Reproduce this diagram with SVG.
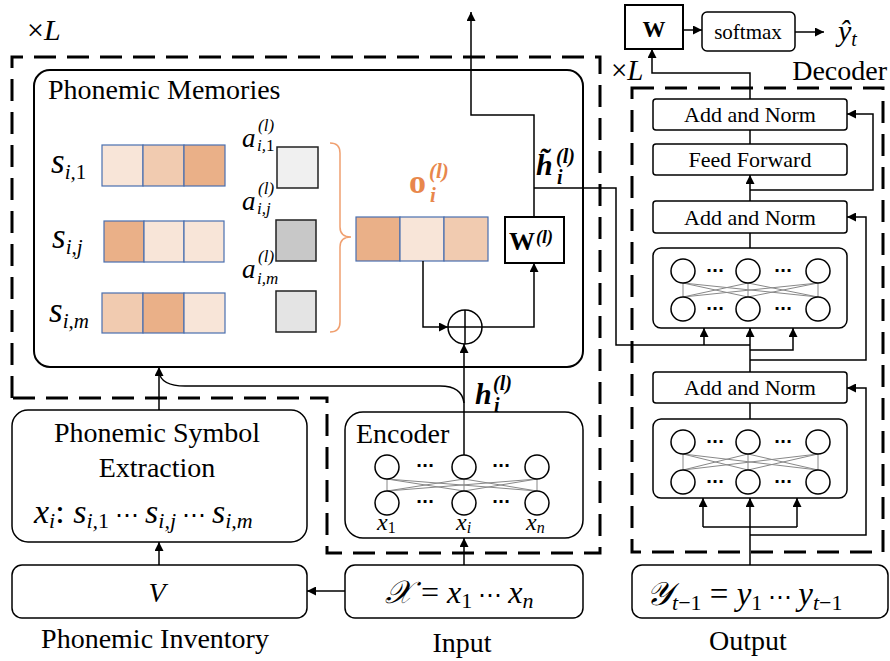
<svg xmlns="http://www.w3.org/2000/svg" width="890" height="661" viewBox="0 0 890 661">
<defs>
<style>
.box{fill:#fff;stroke:#000;stroke-width:1.5}
.bx2{fill:#fff;stroke:#000;stroke-width:2}
.dash{fill:none;stroke:#000;stroke-width:3;stroke-dasharray:22 11}
.ln{fill:none;stroke:#000;stroke-width:1.5}
.arr{fill:none;stroke:#000;stroke-width:1.5;marker-end:url(#ah)}
.t{font-family:"Liberation Serif","Times New Roman",serif;fill:#000}
.m{font-family:"Liberation Serif","DejaVu Serif",serif;font-style:italic;fill:#000}
.up{font-style:normal}
.el{font-style:normal;font-size:24px}
.b{font-weight:bold}
.cell{stroke:#4A6FB0;stroke-width:1.2}
.c1{fill:#F8E5D8}.c2{fill:#F1CBB0}.c3{fill:#EAB088}
.sq{stroke:#222;stroke-width:1.5}
.net circle{fill:#fff;stroke:#000;stroke-width:1.5}
.net line{stroke:#888;stroke-width:1}
.dots{font-family:"DejaVu Sans",sans-serif;font-size:16px;font-weight:bold;fill:#000;text-anchor:middle}
.or{fill:#E8874C}
</style>
<marker id="ah" viewBox="0 0 10 10" refX="10" refY="5" markerWidth="9" markerHeight="9" markerUnits="userSpaceOnUse" orient="auto"><path d="M0,0 L10,5 L0,10 z" fill="#000"/></marker>
</defs>
<rect width="890" height="661" fill="#fff"/>

<g id="encoder-stack-frame">
<path class="dash" d="M12,398 L12,57 L600,57 L600,553 L327,553 L327,398 Z"/>
<text class="t" x="27" y="40" font-size="30">×<tspan font-style="italic">L</tspan></text>
</g>

<g id="decoder-stack-frame">
<rect class="dash" x="632" y="88" width="251" height="464"/>
<text class="t" x="611" y="80" font-size="29">×<tspan font-style="italic">L</tspan></text>
<text class="t" x="887" y="80" font-size="28" text-anchor="end">Decoder</text>
</g>

<g id="phonemic-memories">
<rect class="bx2" x="34" y="70" width="549" height="297" rx="16"/>
<text class="t" x="48" y="99" font-size="28">Phonemic Memories</text>
<!-- row 1 -->
<text class="m" x="51" y="173" font-size="35">s<tspan font-size="21" dy="6">i,<tspan class="up">1</tspan></tspan></text>
<rect class="cell c1" x="102" y="145" width="41" height="41"/>
<rect class="cell c2" x="143" y="145" width="41" height="41"/>
<rect class="cell c3" x="184" y="145" width="41" height="41"/>
<rect class="sq" x="277" y="147" width="41" height="41" fill="#F0F0F0"/>
<text class="m" x="242" y="147" font-size="27">a</text>
<text class="m" x="258" y="131" font-size="17">(l)</text>
<text class="m" x="257" y="151" font-size="17">i,<tspan class="up">1</tspan></text>
<!-- row 2 -->
<text class="m" x="52" y="248" font-size="35">s<tspan font-size="21" dy="6">i,j</tspan></text>
<rect class="cell c3" x="104" y="221" width="40" height="41"/>
<rect class="cell c1" x="144" y="221" width="40" height="41"/>
<rect class="cell c1" x="184" y="221" width="40" height="41"/>
<rect class="sq" x="276" y="220" width="40" height="41" fill="#C8C8C8"/>
<text class="m" x="242" y="210" font-size="27">a</text>
<text class="m" x="258" y="194" font-size="17">(l)</text>
<text class="m" x="257" y="214" font-size="17">i,j</text>
<!-- row 3 -->
<text class="m" x="49" y="322" font-size="35">s<tspan font-size="21" dy="6">i,m</tspan></text>
<rect class="cell c2" x="102" y="293" width="41" height="40"/>
<rect class="cell c3" x="143" y="293" width="41" height="40"/>
<rect class="cell c1" x="184" y="293" width="41" height="40"/>
<rect class="sq" x="276" y="291" width="40" height="41" fill="#E4E4E4"/>
<text class="m" x="242" y="278" font-size="27">a</text>
<text class="m" x="258" y="262" font-size="17">(l)</text>
<text class="m" x="257" y="284" font-size="17">i,m</text>
<!-- bracket -->
<path d="M330,143 Q340,143 340,153 L340,227 Q340,237 351,237 Q340,237 340,247 L340,322 Q340,332 330,332" fill="none" stroke="#F0A070" stroke-width="1.5"/>
<!-- o vector -->
<text class="t or b" x="409" y="193" font-size="34">o</text>
<text class="m or b" x="429" y="178" font-size="21">(l)</text>
<text class="m or b" x="430" y="202" font-size="21">i</text>
<rect class="cell c3" x="356" y="217" width="44" height="44"/>
<rect class="cell c1" x="400" y="217" width="44" height="44"/>
<rect class="cell c2" x="444" y="217" width="44" height="44"/>
</g>

<g id="W-l">
<rect class="bx2" x="505" y="217" width="59" height="46"/>
<text class="t b" x="509" y="250" font-size="26">W</text>
<text class="m b" x="536" y="243" font-size="18">(l)</text>
</g>

<g id="add-circle">
<circle cx="465" cy="327" r="17" fill="#fff" stroke="#000" stroke-width="1.5"/>
<path class="ln" d="M448,327 L482,327 M465,310 L465,344"/>
</g>

<g id="h-tilde-label">
<text class="m b" x="536" y="175" font-size="30">h̃</text>
<text class="m b" x="556" y="163" font-size="20">(l)</text>
<text class="m b" x="557" y="184" font-size="20">i</text>
</g>

<g id="h-label">
<text class="m b" x="475" y="404" font-size="30">h</text>
<text class="m b" x="493" y="390" font-size="20">(l)</text>
<text class="m b" x="494" y="412" font-size="20">i</text>
</g>

<g id="phonemic-symbol-extraction">
<rect class="box" x="12" y="410" width="295" height="132" rx="16"/>
<text class="t" x="157" y="442" font-size="28" text-anchor="middle">Phonemic Symbol</text>
<text class="t" x="157" y="477" font-size="28" text-anchor="middle">Extraction</text>
<text class="m" x="34" y="523" font-size="34">x<tspan font-size="22" dy="5">i</tspan><tspan class="up" dy="-5">: </tspan>s<tspan font-size="22" dy="5">i,<tspan class="up">1</tspan></tspan><tspan class="el" dy="-5"> ⋯ </tspan>s<tspan font-size="22" dy="5">i,j</tspan><tspan class="el" dy="-5"> ⋯ </tspan>s<tspan font-size="22" dy="5">i,m</tspan></text>
</g>

<g id="phonemic-inventory">
<rect class="box" x="12" y="565" width="295" height="53" rx="10"/>
<text class="m" x="157" y="602" font-size="28" text-anchor="middle">V</text>
<text class="t" x="155" y="648" font-size="28" text-anchor="middle">Phonemic Inventory</text>
</g>

<g id="encoder">
<rect class="box" x="345" y="412" width="238" height="126" rx="18"/>
<text class="t" x="356" y="443" font-size="28">Encoder</text>
<g class="net">
<line x1="387" y1="479" x2="387" y2="491"/><line x1="464" y1="479" x2="464" y2="491"/><line x1="537" y1="479" x2="537" y2="491"/>
<line x1="387" y1="479" x2="464" y2="491"/><line x1="387" y1="479" x2="537" y2="491"/>
<line x1="464" y1="479" x2="387" y2="491"/><line x1="464" y1="479" x2="537" y2="491"/>
<line x1="537" y1="479" x2="387" y2="491"/><line x1="537" y1="479" x2="464" y2="491"/>
<circle cx="387" cy="467" r="12"/><circle cx="464" cy="467" r="12"/><circle cx="537" cy="467" r="12"/>
<circle cx="387" cy="503" r="12"/><circle cx="464" cy="503" r="12"/><circle cx="537" cy="503" r="12"/>
</g>
<text class="dots" x="425" y="471">···</text><text class="dots" x="501" y="471">···</text>
<text class="dots" x="425" y="507">···</text><text class="dots" x="501" y="507">···</text>
<text class="m" x="377" y="530" font-size="24">x<tspan class="up" font-size="16" dy="3">1</tspan></text>
<text class="m" x="456" y="530" font-size="24">x<tspan font-size="16" dy="3">i</tspan></text>
<text class="m" x="526" y="530" font-size="24">x<tspan font-size="16" dy="3">n</tspan></text>
</g>

<g id="input">
<rect class="box" x="345" y="565" width="238" height="53" rx="10"/>
<text class="m" x="385" y="603" font-size="32">𝒳<tspan class="up"> = </tspan>x<tspan class="up" font-size="22" dy="5">1</tspan><tspan class="el" dy="-5"> ⋯ </tspan>x<tspan font-size="22" dy="5">n</tspan></text>
<text class="t" x="462" y="652" font-size="28" text-anchor="middle">Input</text>
</g>

<g id="decoder-W">
<rect class="bx2" x="625" y="5" width="58" height="44"/>
<text class="t b" x="654" y="37" font-size="23" text-anchor="middle">W</text>
</g>
<g id="softmax">
<rect class="box" x="702" y="12" width="93" height="39" rx="5"/>
<text class="t" x="748" y="39" font-size="21" text-anchor="middle">softmax</text>
</g>
<g id="y-hat">
<text class="m" x="838" y="41" font-size="30">ŷ<tspan font-size="20" dy="5">t</tspan></text>
</g>

<g id="add-norm-1">
<rect class="box" x="653" y="99" width="194" height="31" rx="3"/>
<text class="t" x="750" y="122" font-size="22" text-anchor="middle">Add and Norm</text>
</g>
<g id="feed-forward">
<rect class="box" x="653" y="144" width="194" height="31" rx="3"/>
<text class="t" x="750" y="167" font-size="22" text-anchor="middle">Feed Forward</text>
</g>
<g id="add-norm-2">
<rect class="box" x="653" y="201" width="194" height="32" rx="3"/>
<text class="t" x="750" y="225" font-size="22" text-anchor="middle">Add and Norm</text>
</g>
<g id="cross-attention">
<rect class="box" x="653" y="248" width="194" height="80" rx="8"/>
<g class="net">
<line x1="683" y1="283" x2="683" y2="297"/><line x1="748" y1="283" x2="748" y2="297"/><line x1="818" y1="283" x2="818" y2="297"/>
<line x1="683" y1="283" x2="748" y2="297"/><line x1="683" y1="283" x2="818" y2="297"/>
<line x1="748" y1="283" x2="683" y2="297"/><line x1="748" y1="283" x2="818" y2="297"/>
<line x1="818" y1="283" x2="683" y2="297"/><line x1="818" y1="283" x2="748" y2="297"/>
<circle cx="683" cy="271" r="12"/><circle cx="748" cy="271" r="12"/><circle cx="818" cy="271" r="12"/>
<circle cx="683" cy="309" r="12"/><circle cx="748" cy="309" r="12"/><circle cx="818" cy="309" r="12"/>
</g>
<text class="dots" x="715" y="276">···</text><text class="dots" x="783" y="276">···</text>
<text class="dots" x="715" y="314">···</text><text class="dots" x="783" y="314">···</text>
</g>
<g id="add-norm-3">
<rect class="box" x="653" y="372" width="194" height="31" rx="3"/>
<text class="t" x="750" y="395" font-size="22" text-anchor="middle">Add and Norm</text>
</g>
<g id="self-attention">
<rect class="box" x="653" y="419" width="194" height="79" rx="8"/>
<g class="net">
<line x1="683" y1="454" x2="683" y2="470"/><line x1="748" y1="454" x2="748" y2="470"/><line x1="818" y1="454" x2="818" y2="470"/>
<line x1="683" y1="454" x2="748" y2="470"/><line x1="683" y1="454" x2="818" y2="470"/>
<line x1="748" y1="454" x2="683" y2="470"/><line x1="748" y1="454" x2="818" y2="470"/>
<line x1="818" y1="454" x2="683" y2="470"/><line x1="818" y1="454" x2="748" y2="470"/>
<circle cx="683" cy="442" r="12"/><circle cx="748" cy="442" r="12"/><circle cx="818" cy="442" r="12"/>
<circle cx="683" cy="482" r="12"/><circle cx="748" cy="482" r="12"/><circle cx="818" cy="482" r="12"/>
</g>
<text class="dots" x="715" y="447">···</text><text class="dots" x="783" y="447">···</text>
<text class="dots" x="715" y="487">···</text><text class="dots" x="783" y="487">···</text>
</g>
<g id="output">
<rect class="box" x="632" y="565" width="256" height="53" rx="10"/>
<text class="m" x="646" y="605" font-size="33">𝒴<tspan font-size="22" dy="5">t<tspan class="up">−1</tspan></tspan><tspan class="up" dy="-5"> = </tspan>y<tspan class="up" font-size="22" dy="5">1</tspan><tspan class="el" dy="-5"> ⋯ </tspan>y<tspan font-size="22" dy="5">t<tspan class="up">−1</tspan></tspan></text>
<text class="t" x="748" y="650" font-size="28" text-anchor="middle">Output</text>
</g>

<g id="connectors">
<path class="arr" d="M423,261 L423,327 L448,327"/>
<path class="arr" d="M482,327 L534,327 L534,263"/>
<path class="arr" d="M534,217 L534,115 L471,115 L471,12"/>
<path class="ln" d="M534,188 L616,188 L616,345 L750,345"/>
<path class="arr" d="M704,345 L704,328"/>
<path class="arr" d="M464,455 L464,344"/>
<path class="ln" d="M464,403 Q462,386 440,386 L185,386 Q161,386 159,372"/>
<path class="arr" d="M159,410 L159,367"/>
<path class="arr" d="M159,565 L159,542"/>
<path class="arr" d="M345,591 L307,591"/>
<path class="arr" d="M464,565 L464,538"/>
<path class="arr" d="M750,565 L750,498"/>
<path class="ln" d="M703,527 L797,527"/>
<path class="arr" d="M703,527 L703,498"/>
<path class="arr" d="M797,527 L797,498"/>
<path class="arr" d="M750,535 L866,535 L866,388 L847,388"/>
<path class="ln" d="M750,419 L750,403"/>
<path class="arr" d="M750,372 L750,328"/>
<path class="arr" d="M750,350 L793,350 L793,328"/>
<path class="arr" d="M750,360 L866,360 L866,217 L847,217"/>
<path class="ln" d="M750,248 L750,233"/>
<path class="arr" d="M750,201 L750,175"/>
<path class="arr" d="M750,190 L873,190 L873,114 L847,114"/>
<path class="ln" d="M750,144 L750,130"/>
<path class="arr" d="M750,99 L750,73 L652,73 L652,49"/>
<path class="arr" d="M683,30 L702,30"/>
<path class="arr" d="M795,32 L824,32"/>
</g>
</svg>
